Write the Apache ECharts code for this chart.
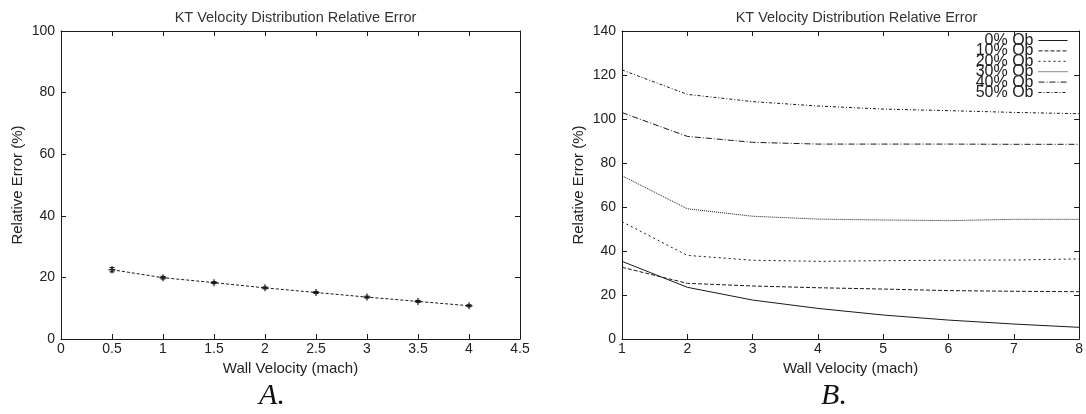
<!DOCTYPE html>
<html>
<head>
<meta charset="utf-8">
<script src="https://cdn.jsdelivr.net/npm/echarts@6/dist/echarts.min.js"></script>
<style>
  html, body { margin: 0; padding: 0; background: #fff; }
  #chart { width: 1086px; height: 414px; }
</style>
</head>
<body>
<div id="chart"></div>
<script>
// panel A: single run with error bars
const velA = [0.5, 1, 1.5, 2, 2.5, 3, 3.5, 4]
const errA = [22.5, 19.9, 18.3, 16.6, 15.1, 13.6, 12.2, 10.8]
const errBarA = [0.7, 0.4, 0.3, 0.3, 0.3, 0.3, 0.3, 0.3]

// panel B: one curve per obstacle fraction
const velB = [1, 2, 3, 4, 5, 6, 7, 8]
const ob0 = [35.3, 23.5, 17.7, 13.9, 10.9, 8.6, 6.8, 5.3]
const ob10 = [32.6, 25.3, 24.1, 23.3, 22.7, 22.0, 21.7, 21.5]
const ob20 = [53.3, 38.0, 35.8, 35.3, 35.6, 35.8, 35.9, 36.4]
const ob30 = [74.2, 59.2, 55.8, 54.5, 54.1, 53.8, 54.4, 54.4]
const ob40 = [102.9, 92.1, 89.4, 88.6, 88.6, 88.6, 88.5, 88.5]
const ob50 = [122.3, 111.2, 107.9, 105.9, 104.5, 103.8, 103.0, 102.4]
const obNames = ['0% Ob', '10% Ob', '20% Ob', '30% Ob', '40% Ob', '50% Ob']
const obData = [ob0, ob10, ob20, ob30, ob40, ob50]
// dash patterns, gnuplot-ish
const obDash = ['solid', [4, 2], [2, 3], [1, 1], [6, 2, 1, 2], [3, 2, 1, 2]]

const font = 'Liberation Sans, Arial, Helvetica, sans-serif'
const ink = '#1a1a1a'

function pairs(xs, ys) {
  return xs.map((x, i) => [x, ys[i]])
}

// shared axis look: box border with inward ticks
function xAx(gridIndex, min, max, interval, mirror) {
  return {
    type: 'value', gridIndex, min, max, interval,
    position: mirror ? 'top' : 'bottom',
    name: mirror ? '' : 'Wall Velocity (mach)',
    nameLocation: 'middle',
    nameGap: 12,
    nameTextStyle: { fontFamily: font, fontSize: 15, color: '#222' },
    axisLine: { show: true, onZero: false, lineStyle: { color: ink, width: 1 } },
    axisTick: { show: true, inside: true, length: 5, lineStyle: { color: ink } },
    axisLabel: {
      show: !mirror, margin: 3, fontFamily: font, fontSize: 14, color: '#222',
      showMinLabel: true, showMaxLabel: true,
    },
    splitLine: { show: false },
  }
}

function yAx(gridIndex, min, max, interval, mirror) {
  return {
    type: 'value', gridIndex, min, max, interval,
    position: mirror ? 'right' : 'left',
    name: mirror ? '' : 'Relative Error (%)',
    nameLocation: 'middle',
    nameGap: 36,
    nameTextStyle: { fontFamily: font, fontSize: 15, color: '#222' },
    axisLine: { show: true, onZero: false, lineStyle: { color: ink, width: 1 } },
    axisTick: { show: true, inside: true, length: 5, lineStyle: { color: ink } },
    axisLabel: {
      show: !mirror, margin: 6, fontFamily: font, fontSize: 14, color: '#222',
      showMinLabel: true, showMaxLabel: true,
    },
    splitLine: { show: false },
  }
}

// error bars + crosses for panel A
function renderErr(params, api) {
  const x = api.value(0)
  const y = api.value(1)
  const e = api.value(2)
  const top = api.coord([x, y + e])
  const bot = api.coord([x, y - e])
  const mid = api.coord([x, y])
  const cap = 2.5
  const arm = 3.5
  const style = { stroke: ink, lineWidth: 1.2 }
  return {
    type: 'group',
    children: [
      { type: 'line', shape: { x1: top[0], y1: top[1], x2: bot[0], y2: bot[1] }, style },
      { type: 'line', shape: { x1: top[0] - cap, y1: top[1], x2: top[0] + cap, y2: top[1] }, style },
      { type: 'line', shape: { x1: bot[0] - cap, y1: bot[1], x2: bot[0] + cap, y2: bot[1] }, style },
      { type: 'line', shape: { x1: mid[0] - arm, y1: mid[1], x2: mid[0] + arm, y2: mid[1] }, style },
      { type: 'line', shape: { x1: mid[0], y1: mid[1] - arm, x2: mid[0], y2: mid[1] + arm }, style },
    ],
  }
}

const seriesB = obNames.map((name, i) => ({
  name,
  type: 'line',
  xAxisIndex: 2,
  yAxisIndex: 2,
  data: pairs(velB, obData[i]),
  symbol: 'none',
  smooth: false,
  silent: true,
  lineStyle: { color: ink, width: 1, type: obDash[i] },
  itemStyle: { color: ink },
}))

// gnuplot key: tightly stacked, text on the left of the sample
const legends = obNames.map((name, i) => ({
  data: [name],
  orient: 'vertical',
  right: 18,
  top: 32.5 + i * 10.4,
  align: 'right',
  itemWidth: 29,
  itemHeight: 8,
  padding: 0,
  selectedMode: false,
  itemStyle: { opacity: 0 },
  lineStyle: { width: 1 },
  textStyle: { fontFamily: font, fontSize: 16, color: '#222', padding: 0 },
}))

const chart = echarts.init(document.getElementById('chart'), null, { renderer: 'canvas' })

chart.setOption({
  animation: false,
  backgroundColor: '#fff',
  title: [
    {
      text: 'KT Velocity Distribution Relative Error',
      left: 290.5, top: 5, textAlign: 'center',
      textStyle: { fontFamily: font, fontSize: 14.5, fontWeight: 'normal', color: '#333' },
    },
    {
      text: 'KT Velocity Distribution Relative Error',
      left: 851.5, top: 5, textAlign: 'center',
      textStyle: { fontFamily: font, fontSize: 14.5, fontWeight: 'normal', color: '#333' },
    },
  ],
  grid: [
    { left: 61, top: 31, width: 459, height: 308 },
    { left: 622, top: 31, width: 459, height: 308 },
  ],
  xAxis: [
    xAx(0, 0, 4.5, 0.5, false),
    xAx(0, 0, 4.5, 0.5, true),
    xAx(1, 1, 8, 1, false),
    xAx(1, 1, 8, 1, true),
  ],
  yAxis: [
    yAx(0, 0, 100, 20, false),
    yAx(0, 0, 100, 20, true),
    yAx(1, 0, 140, 20, false),
    yAx(1, 0, 140, 20, true),
  ],
  legend: legends,
  graphic: [
    {
      type: 'text', x: 272, y: 396,
      style: {
        text: 'A.', fontFamily: 'Liberation Serif, DejaVu Serif, serif', fontStyle: 'italic',
        fontSize: 30, fill: '#111', textAlign: 'center', textVerticalAlign: 'middle',
      },
    },
    {
      type: 'text', x: 834, y: 396,
      style: {
        text: 'B.', fontFamily: 'Liberation Serif, DejaVu Serif, serif', fontStyle: 'italic',
        fontSize: 30, fill: '#111', textAlign: 'center', textVerticalAlign: 'middle',
      },
    },
  ],
  series: [
    {
      name: 'A',
      type: 'line',
      xAxisIndex: 0,
      yAxisIndex: 0,
      data: pairs(velA, errA),
      symbol: 'none',
      silent: true,
      lineStyle: { color: ink, width: 1, type: [3, 2] },
    },
    {
      name: 'A err',
      type: 'custom',
      xAxisIndex: 0,
      yAxisIndex: 0,
      silent: true,
      data: velA.map((x, i) => [x, errA[i], errBarA[i]]),
      renderItem: renderErr,
      z: 3,
    },
    ...seriesB,
  ],
})
</script>
</body>
</html>
